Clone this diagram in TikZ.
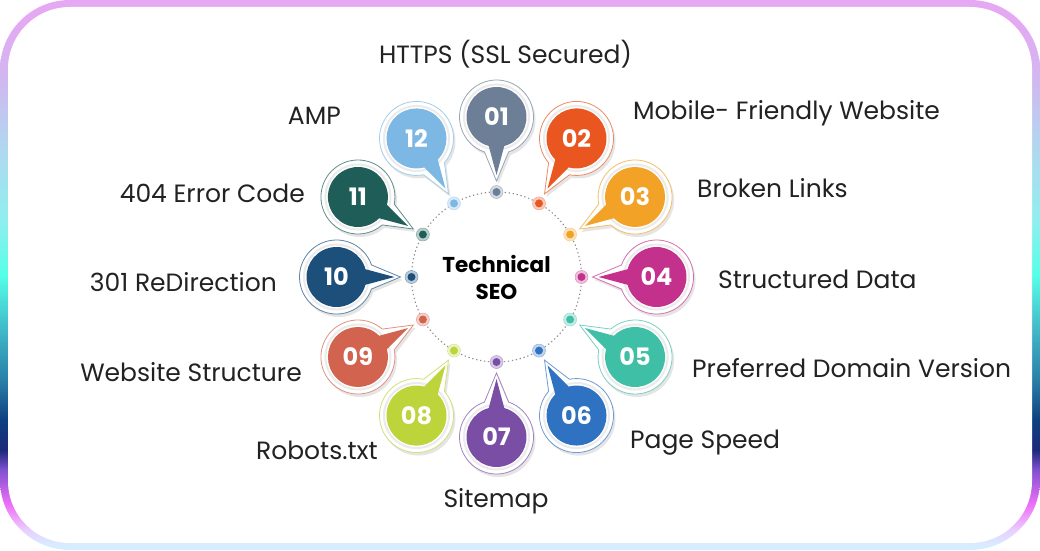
\documentclass[tikz,border=0pt]{standalone}
\usepackage{fontspec}
\setmainfont{Poppins}
\usepackage{tikz}
\usetikzlibrary{calc}
\usetikzlibrary{positioning}
\definecolor{seo-01}{HTML}{6C7F97}
\definecolor{seo-02}{HTML}{E9561F}
\definecolor{seo-03}{HTML}{F2A226}
\definecolor{seo-04}{HTML}{C4318D}
\definecolor{seo-05}{HTML}{3FBFA6}
\definecolor{seo-06}{HTML}{2F72C2}
\definecolor{seo-07}{HTML}{7B4EA6}
\definecolor{seo-08}{HTML}{BDD43B}
\definecolor{seo-09}{HTML}{D1634F}
\definecolor{seo-10}{HTML}{1C4F7A}
\definecolor{seo-11}{HTML}{1E5D58}
\definecolor{seo-12}{HTML}{7DB7E3}
\definecolor{seo-text}{HTML}{222222}
\definecolor{fr-a}{HTML}{D8ECFF}
\definecolor{fr-b}{HTML}{E8D0FF}
\definecolor{fr-c}{HTML}{F070F8}
\definecolor{fr-d}{HTML}{8050D0}
\definecolor{fr-e}{HTML}{1A2A7A}
\definecolor{fr-f}{HTML}{0E4080}
\definecolor{fr-g}{HTML}{2A80A8}
\definecolor{fr-h}{HTML}{40B8C8}
\definecolor{fr-i}{HTML}{55FFE8}
\definecolor{fr-j}{HTML}{90EEF0}
\definecolor{fr-k}{HTML}{B0D8F0}
\definecolor{fr-l}{HTML}{D0B8F0}
\definecolor{fr-m}{HTML}{E5A8F2}
\pgfdeclareverticalshading{frame-grad}{100bp}{color(0bp)=(fr-a); color(25.5bp)=(fr-a);
  color(26.8bp)=(fr-b); color(29.1bp)=(fr-c); color(32.3bp)=(fr-d); color(34.1bp)=(fr-e);
  color(36.8bp)=(fr-f); color(40.5bp)=(fr-g); color(45bp)=(fr-h); color(50bp)=(fr-i);
  color(55bp)=(fr-j); color(61.4bp)=(fr-k); color(67.7bp)=(fr-l); color(73.2bp)=(fr-m);
  color(100bp)=(fr-m)}

\begin{document}
\begin{tikzpicture}[x=1pt, y=1pt, font=\fontsize{25}{30}\selectfont,
  label text/.style={inner sep=0pt, text height=17.5pt, text depth=0pt, text=seo-text},
  number text/.style={inner sep=0pt, text=white, font=\bfseries\fontsize{24}{24}\selectfont}]
\useasboundingbox (0,0) rectangle (1040,550);
\shade[shading=frame-grad, rounded corners=70pt] (0,0) rectangle (1040,550);
\fill[white, rounded corners=62pt] (8,7) rectangle (1032,543);
\coordinate (C) at (496.5,273);
\node[circle, draw=black!45, dash pattern=on 1.3pt off 2.7pt, line width=1.1pt,
  minimum size=170pt, inner sep=0pt, align=center, text=black,
  font=\bfseries\fontsize{21.5}{27}\selectfont]
  (seo)
  at (C)
  {Technical\\SEO};
\foreach \num/\ang/\col in {
    01/90/seo-01, 02/60/seo-02, 03/30/seo-03, 04/0/seo-04,
    05/-30/seo-05, 06/-60/seo-06, 07/-90/seo-07, 08/-120/seo-08,
    09/-150/seo-09, 10/180/seo-10, 11/150/seo-11, 12/120/seo-12} {
  \coordinate (m\num) at ($(C)+(\ang:160)$);
  \begin{scope}[shift={($(m\num)+(2,-3)$)}, rotate=\ang+180]
    \fill[black, opacity=0.10] (19:37) arc[start angle=19, delta angle=322, radius=37] -- (64,0) -- cycle;
  \end{scope}
  \begin{scope}[shift={(m\num)}, rotate=\ang+180]
    \filldraw[fill=white, draw=\col!70, line width=0.8pt]
      (19:37) arc[start angle=19, delta angle=322, radius=37] -- (64,0) -- cycle;
    \draw[black!8, line width=2pt] (0,0) circle (32.5);
    \fill[\col] (15:30) arc[start angle=15, delta angle=330, radius=30] -- (58,0) -- cycle;
  \end{scope}
  \node[number text]
    (n\num)
    at (m\num)
    {\num};
  \node[circle, fill=\col!30, draw=\col!55, line width=0.5pt, minimum size=13pt, inner sep=0pt]
    (d\num)
    at ($(C)+(\ang:85)$)
    {};
  \fill[\col] (d\num) circle (4);
}
\node[label text, anchor=center] (t01) at (505.5,495) {HTTPS (SSL Secured)};
\node[label text, anchor=west] (t02) at (633,439) {Mobile- Friendly Website};
\node[label text, anchor=west] (t03) at (697,361) {Broken Links};
\node[label text, anchor=west] (t04) at (718,270) {Structured Data};
\node[label text, anchor=west] (t05) at (692,181) {Preferred Domain Version};
\node[label text, anchor=west] (t06) at (630,110) {Page Speed};
\node[label text, anchor=center] (t07) at (496,51) {Sitemap};
\node[label text, anchor=east] (t08) at (378,99) {Robots.txt};
\node[label text, anchor=east] (t09) at (302,177) {Website Structure};
\node[label text, anchor=east] (t10) at (277,267) {301 ReDirection};
\node[label text, anchor=east] (t11) at (305,356) {404 Error Code};
\node[label text, anchor=east] (t12) at (341,434) {AMP};
\end{tikzpicture}
\end{document}
